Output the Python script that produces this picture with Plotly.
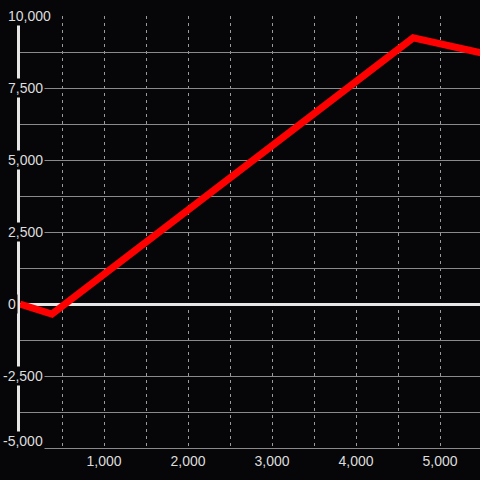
import plotly.graph_objects as go

# dados
x_vals = [0, 380, 4680, 5600]
y_vals = [0, -350, 9240, 8650]

x_ticks = [500, 1000, 1500, 2000, 2500, 3000, 3500, 4000, 4500, 5000]
x_text = ["", "1,000", "", "2,000", "", "3,000", "", "4,000", "", "5,000"]
y_labels = [10000, 7500, 5000, 2500, 0, -2500, -5000]

bg = "#060609"
fonte = "Liberation Sans, Arial, sans-serif"

fig = go.Figure()
fig.add_trace(go.Scatter(
    x=x_vals, y=y_vals, mode="lines",
    line=dict(color="#ff0000", width=7),
    hoverinfo="skip",
))

# rótulos do eixo y com fundo (escondem a linha do eixo)
for v in y_labels:
    fig.add_annotation(
        x=0, xref="paper", y=v, yref="y",
        text=f"{v:,}", showarrow=False,
        xanchor="left", yanchor="middle",
        xshift=-14 if v >= 0 else -19,
        yshift=7 if v == y_labels[-1] else 0,
        font=dict(family=fonte, size=14, color="#dddddd"),
        bgcolor=bg, borderpad=1,
    )

fig.update_layout(
    width=480, height=480,
    margin=dict(l=20, r=0, t=16, b=32),
    paper_bgcolor=bg, plot_bgcolor=bg,
    showlegend=False,
    font=dict(family=fonte, size=14, color="#dddddd"),
    xaxis=dict(
        range=[0, 5476],
        tickvals=x_ticks, ticktext=x_text,
        showgrid=True, gridcolor="#9a9a9a", gridwidth=1, griddash="3px,4px",
        zeroline=False, ticks="",
        showline=True, linecolor="#8a8a8a", linewidth=1,
    ),
    yaxis=dict(
        range=[-5000, 10000], dtick=1250,
        showticklabels=False,
        showgrid=True, gridcolor="#8a8a8a", gridwidth=1,
        zeroline=True, zerolinecolor="#e6e6e6", zerolinewidth=3,
        showline=True, linecolor="#e6e6e6", linewidth=3, ticks="",
    ),
)

# tirar a margem padrão da página
fig.write_html(
    "out.html",
    config={"displayModeBar": False},
    post_script="document.body.style.margin='0';document.body.style.background='#060609';",
)
